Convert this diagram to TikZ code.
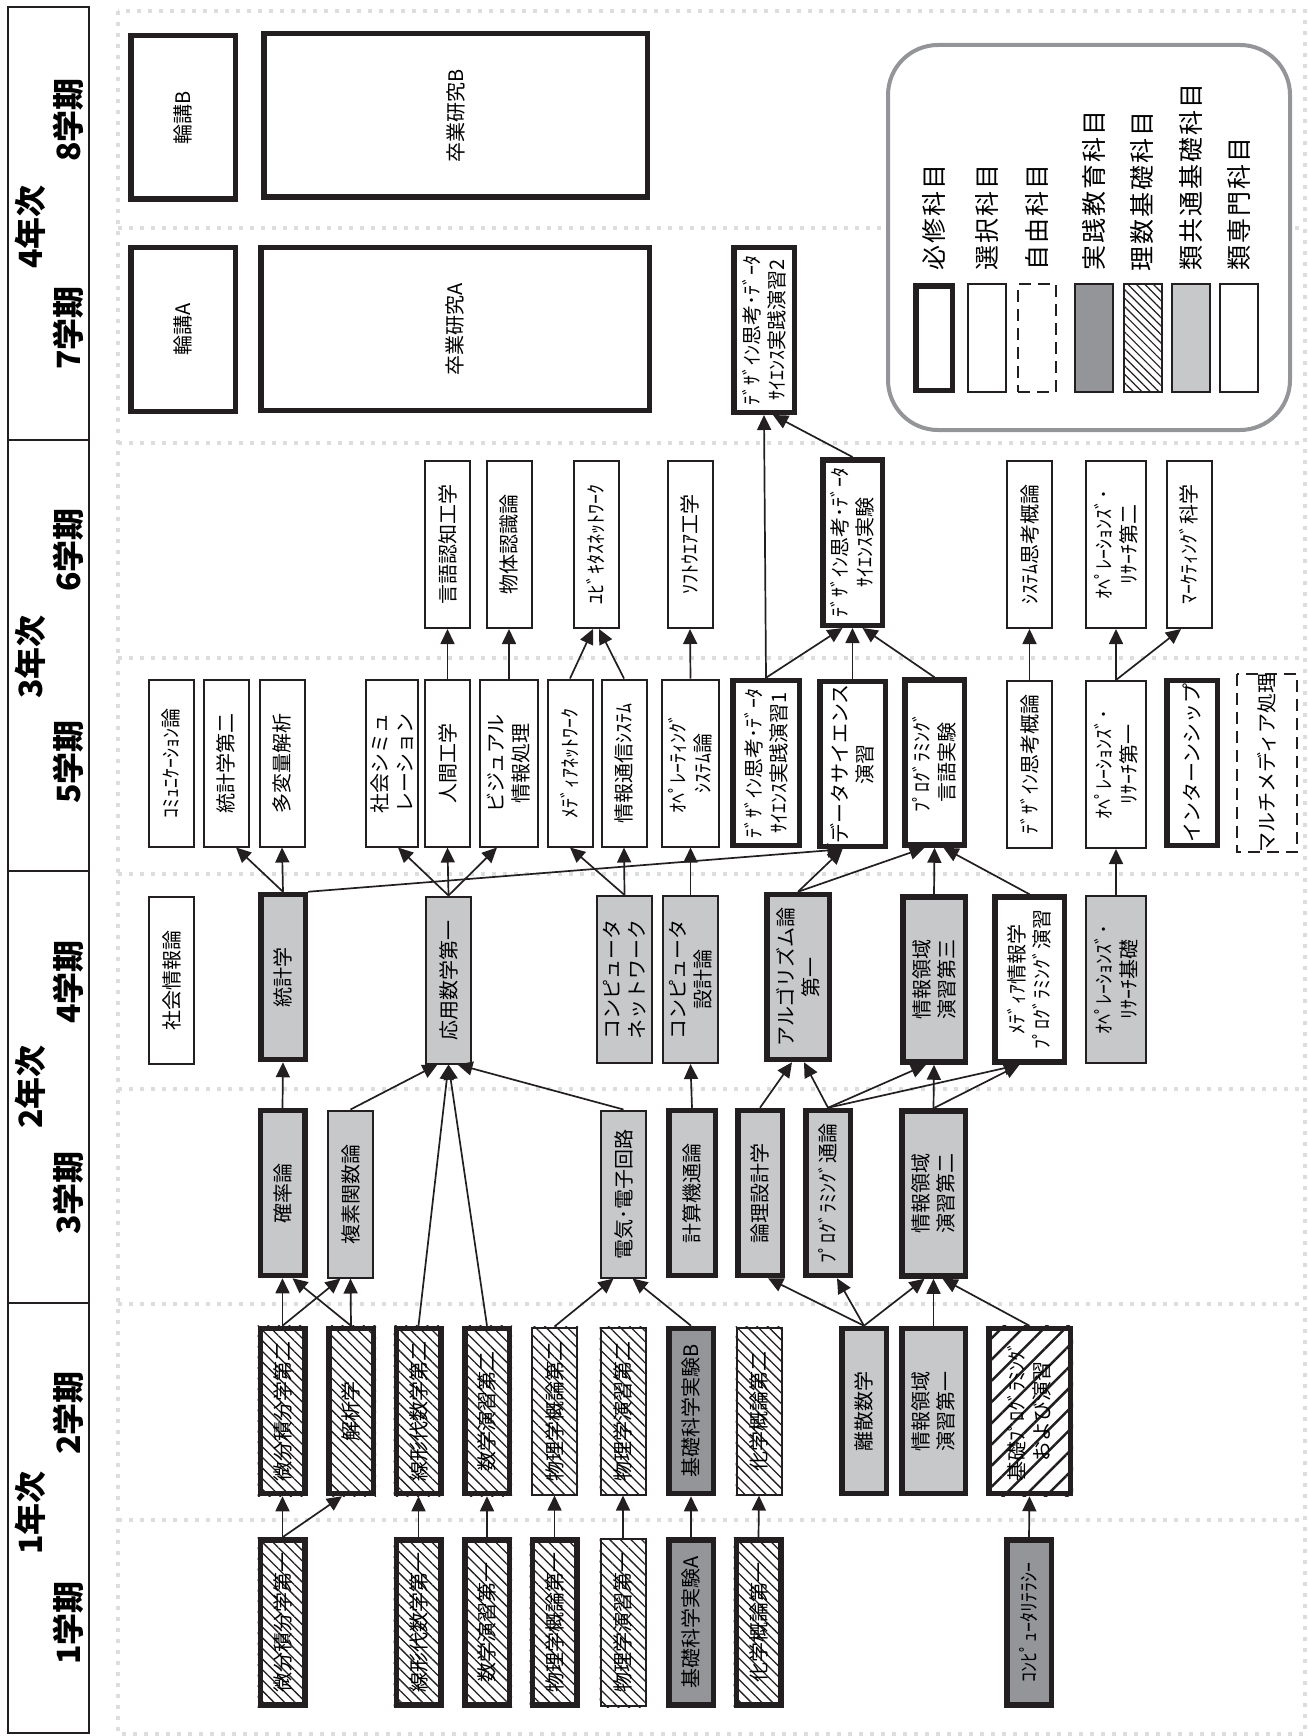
\documentclass[tikz,border=0pt]{standalone}
\usepackage{fontspec}
\setmainfont{Noto Sans CJK JP}
\newfontfamily\legfont{Noto Sans CJK JP}[LetterSpace=8]
\usepackage{tikz}
\usetikzlibrary{arrows.meta,patterns.meta,backgrounds}
\definecolor{ink}{HTML}{231F20}
\definecolor{pracgray}{HTML}{939598}
\definecolor{comgray}{HTML}{C7C8CA}
\definecolor{dotgray}{HTML}{DCDDDE}
\definecolor{framegray}{HTML}{939598}
\newcommand{\crsfont}{\fontsize{20}{25}\selectfont}
\newcommand{\hdrfont}{\fontsize{32}{36}\selectfont\bfseries}
\newcommand{\keyfont}{\legfont\fontsize{25}{30}\selectfont}

\begin{document}
\begin{tikzpicture}[x=1pt,y=1pt,>={Triangle[length=15pt,width=14pt]},
  crs/.style={draw=ink,line width=2pt,rotate=90,align=center,inner sep=0pt,
    minimum width=167pt,minimum height=45pt,font=\crsfont},
  req/.style={crs,line width=5.5pt,minimum width=165pt,minimum height=44.5pt},
  optbox/.style={crs,dash pattern=on 12pt off 7pt},
  pracfill/.style={fill=pracgray},
  comfill/.style={fill=comgray},
  scihatch/.style={pattern={Lines[angle=-45,distance=7.5pt,line width=1.3pt]},pattern color=ink},
  widehatch/.style={pattern={Lines[angle=45,distance=15pt,line width=2.5pt]},pattern color=ink},
  prereq/.style={->,draw=ink,line width=1.7pt},
  termline/.style={draw=dotgray,line width=4pt,dash pattern=on 4pt off 7pt},
  hdr/.style={draw=ink,line width=2pt},
  hlab/.style={rotate=90,font=\hdrfont,inner sep=0pt},
  keybox/.style={draw=ink,line width=2pt,minimum width=38pt,minimum height=108pt,inner sep=0pt},
  keylab/.style={rotate=90,anchor=west,font=\keyfont,inner sep=0pt}]
\useasboundingbox (0,0) rectangle (1308,-1736);
% year / term header
\draw[hdr] (8,-7) rectangle (89,-440);
\draw[hdr] (8,-440) rectangle (89,-871);
\draw[hdr] (8,-871) rectangle (89,-1303);
\draw[hdr] (8,-1303) rectangle (89,-1733);
\node[hlab] (y4) at (30,-227) {4年次};
\node[hlab] (s8) at (68,-120) {8学期};
\node[hlab] (s7) at (68,-328) {7学期};
\node[hlab] (y3) at (30,-657) {3年次};
\node[hlab] (s6) at (68,-550) {6学期};
\node[hlab] (s5) at (68,-762) {5学期};
\node[hlab] (y2) at (30,-1087) {2年次};
\node[hlab] (s4) at (68,-982) {4学期};
\node[hlab] (s3) at (68,-1193) {3学期};
\node[hlab] (y1) at (30,-1513) {1年次};
\node[hlab] (s2) at (68,-1413) {2学期};
\node[hlab] (s1) at (68,-1623) {1学期};
% dotted frame and term separators
\draw[termline] (118,-11) rectangle (1305,-1734);
\draw[termline] (118,-228) -- (1305,-228);
\draw[termline] (118,-443) -- (1305,-443);
\draw[termline] (118,-658) -- (1305,-658);
\draw[termline] (118,-874) -- (1305,-874);
\draw[termline] (118,-1089) -- (1305,-1089);
\draw[termline] (118,-1304) -- (1305,-1304);
\draw[termline] (118,-1520) -- (1305,-1520);
% legend
\draw[draw=framegray,line width=4pt,rounded corners=50pt,fill=white] (888,-45) rectangle (1290,-430);
\node[keybox,line width=5.5pt,minimum width=36.5pt,minimum height=104.5pt] (k1) at (934,-338) {};
\node[keybox] (k2) at (987,-338) {};
\node[keybox,dash pattern=on 12pt off 7pt] (k3) at (1037,-338) {};
\node[keybox,pracfill] (k4) at (1094,-338) {};
\node[keybox,pattern={Lines[angle=-45,distance=6pt,line width=1.2pt]},pattern color=ink] (k5) at (1142.5,-338) {};
\node[keybox,comfill] (k6) at (1191,-338) {};
\node[keybox] (k7) at (1239,-338) {};
\node[keylab] (l1) at ([yshift=12pt]k1.north) {必修科目};
\node[keylab] (l2) at ([yshift=12pt]k2.north) {選択科目};
\node[keylab] (l3) at ([yshift=12pt]k3.north) {自由科目};
\node[keylab] (l4) at ([yshift=12pt]k4.north) {実践教育科目};
\node[keylab] (l5) at ([yshift=12pt]k5.north) {理数基礎科目};
\node[keylab] (l6) at ([yshift=12pt]k6.north) {類共通基礎科目};
\node[keylab] (l7) at ([yshift=12pt]k7.north) {類専門科目};
% 4th year
\node[req,minimum height=104.5pt,minimum width=163.5pt] (rinkoB) at (183,-117.5) {輪講B};
\node[req,minimum height=383.5pt,minimum width=163.5pt] (sotsuB) at (455.5,-115.5) {卒業研究B};
\node[req,minimum height=104.5pt,minimum width=163.5pt] (rinkoA) at (183,-329.5) {輪講A};
\node[req,minimum height=388.5pt,minimum width=162.5pt] (sotsuA) at (455,-329) {卒業研究A};
\node[req,minimum height=60.5pt,minimum width=164.5pt] (dsp2) at (764,-330) {ﾃﾞｻﾞｲﾝ思考･ﾃﾞｰﾀ\\ｻｲｴﾝｽ実践演習2};
% 6th term
\node[crs] (gengo) at (447.5,-544.5) {言語認知工学};
\node[crs] (buttai) at (509,-544.5) {物体認識論};
\node[crs] (ubiq) at (596,-544.5) {ﾕﾋﾞｷﾀｽﾈｯﾄﾜｰｸ};
\node[crs] (soft) at (690,-544.5) {ｿﾌﾄｳｴｱ工学};
\node[req,minimum height=59.5pt,minimum width=165.5pt] (dsexp) at (852.5,-542.5) {ﾃﾞｻﾞｲﾝ思考･ﾃﾞｰﾀ\\ｻｲｴﾝｽ実験};
\node[crs] (sysshiko) at (1029.5,-544.5) {ｼｽﾃﾑ思考概論};
\node[crs,minimum height=60pt] (or2) at (1116,-544.5) {ｵﾍﾟﾚｰｼｮﾝｽﾞ･\\ﾘｻｰﾁ第二};
\node[crs] (mkt) at (1189,-544.5) {ﾏｰｹﾃｨﾝｸﾞ科学};
% 5th term
\node[crs] (comm) at (171,-763) {ｺﾐｭﾆｹｰｼｮﾝ論};
\node[crs] (stat2) at (226,-763) {統計学第二};
\node[crs] (tahen) at (282,-763) {多変量解析};
\node[crs,minimum height=52pt] (socsim) at (392,-763) {社会シミュ\\レーション};
\node[crs] (ningen) at (447.5,-763) {人間工学};
\node[crs,minimum height=58pt] (visual) at (509,-763) {ビジュアル\\情報処理};
\node[crs] (medianet) at (570,-763) {ﾒﾃﾞｨｱﾈｯﾄﾜｰｸ};
\node[crs] (infocom) at (624,-763) {情報通信ｼｽﾃﾑ};
\node[crs,minimum height=57pt] (os) at (690.5,-763) {ｵﾍﾟﾚｰﾃｨﾝｸﾞ\\ｼｽﾃﾑ論};
\node[req,minimum height=66.5pt] (dsp1) at (766,-763) {ﾃﾞｻﾞｲﾝ思考･ﾃﾞｰﾀ\\ｻｲｴﾝｽ実践演習1};
\node[req,minimum height=65.5pt] (dsen) at (852.5,-764) {データサイエンス\\演習};
\node[req,minimum height=59.5pt] (proglang) at (934.5,-762.5) {ﾌﾟﾛｸﾞﾗﾐﾝｸﾞ\\言語実験};
\node[crs] (dshiko) at (1029.5,-764.5) {ﾃﾞｻﾞｲﾝ思考概論};
\node[crs,minimum height=60pt] (or1) at (1116,-764.5) {ｵﾍﾟﾚｰｼｮﾝｽﾞ･\\ﾘｻｰﾁ第一};
\node[req,minimum height=50.5pt] (intern) at (1192,-763) {インターンシップ};
\node[optbox,minimum height=60pt] (mm) at (1267,-763) {マルチメディア処理};
% 4th term
\node[crs] (shakai) at (171.5,-980.5) {社会情報論};
\node[req,comfill] (stat) at (283,-977) {統計学};
\node[crs,comfill] (oyou) at (448.5,-980) {応用数学第一};
\node[crs,comfill,minimum height=55pt] (compnet) at (624.5,-979.5) {コンピュータ\\ネットワーク};
\node[crs,comfill,minimum height=55pt] (compdes) at (690.5,-979.5) {コンピュータ\\設計論};
\node[req,comfill,minimum height=62.5pt] (algo) at (798,-977) {アルゴリズム論\\第一};
\node[req,comfill,minimum height=62.5pt] (info3) at (934,-979.5) {情報領域\\演習第三};
\node[req,minimum height=69.5pt] (mediaprog) at (1029.5,-979.5) {ﾒﾃﾞｨｱ情報学\\ﾌﾟﾛｸﾞﾗﾐﾝｸﾞ演習};
\node[crs,comfill,minimum height=60pt] (orbase) at (1116,-979.5) {ｵﾍﾟﾚｰｼｮﾝｽﾞ･\\ﾘｻｰﾁ基礎};
% 3rd term
\node[req,comfill] (kakuritsu) at (282.5,-1193) {確率論};
\node[crs,comfill] (fukuso) at (350.5,-1194) {複素関数論};
\node[crs,comfill] (denki) at (623.5,-1194) {電気･電子回路};
\node[req,comfill,minimum height=46.5pt] (keisanki) at (692,-1193) {計算機通論};
\node[req,comfill] (ronri) at (760,-1193) {論理設計学};
\node[req,comfill] (progtsu) at (828,-1193) {ﾌﾟﾛｸﾞﾗﾐﾝｸﾞ通論};
\node[req,comfill,minimum height=63.5pt] (info2) at (933.5,-1193.5) {情報領域\\演習第二};
% 2nd term
\node[req] (biseki2) at (282.5,-1411) {微分積分学第二};
\node[req] (kaiseki) at (351,-1411) {解析学};
\node[req] (senkei2) at (418.5,-1411) {線形代数学第二};
\node[req] (suen2) at (487,-1411) {数学演習第二};
\node[crs] (butsugai2) at (554.5,-1411) {物理学概論第二};
\node[crs] (butsuen2) at (623,-1411) {物理学演習第二};
\node[req,pracfill] (kisoB) at (691,-1411) {基礎科学実験B};
\node[crs] (kagaku2) at (759,-1411) {化学概論第二};
\node[req,comfill] (risan) at (864,-1411) {離散数学};
\node[req,comfill,minimum height=63.5pt] (info1) at (933.5,-1411) {情報領域\\演習第一};
\node[req,minimum height=81.5pt] (kisoprog) at (1029.5,-1411) {基礎ﾌﾟﾛｸﾞﾗﾐﾝｸﾞ\\および演習};
% 1st term
\node[req] (biseki1) at (282.5,-1622.5) {微分積分学第一};
\node[req] (senkei1) at (418.5,-1622.5) {線形代数学第一};
\node[req] (suen1) at (487,-1622.5) {数学演習第一};
\node[req] (butsugai1) at (554.5,-1622.5) {物理学概論第一};
\node[crs] (butsuen1) at (623,-1622.5) {物理学演習第一};
\node[req,pracfill] (kisoA) at (691,-1622.5) {基礎科学実験A};
\node[req] (kagaku1) at (758.5,-1622.5) {化学概論第一};
\node[req,pracfill] (literacy) at (1029,-1622.5) {ｺﾝﾋﾟｭｰﾀﾘﾃﾗｼｰ};
% hatching of the science basics, kept upright on the page
\begin{pgfonlayer}{background}
\fill[scihatch] (biseki1.north west) rectangle (biseki1.south east);
\fill[scihatch] (senkei1.north west) rectangle (senkei1.south east);
\fill[scihatch] (suen1.north west) rectangle (suen1.south east);
\fill[scihatch] (butsugai1.north west) rectangle (butsugai1.south east);
\fill[scihatch] (butsuen1.north west) rectangle (butsuen1.south east);
\fill[scihatch] (kagaku1.north west) rectangle (kagaku1.south east);
\fill[scihatch] (biseki2.north west) rectangle (biseki2.south east);
\fill[scihatch] (kaiseki.north west) rectangle (kaiseki.south east);
\fill[scihatch] (senkei2.north west) rectangle (senkei2.south east);
\fill[scihatch] (suen2.north west) rectangle (suen2.south east);
\fill[scihatch] (butsugai2.north west) rectangle (butsugai2.south east);
\fill[scihatch] (butsuen2.north west) rectangle (butsuen2.south east);
\fill[scihatch] (kagaku2.north west) rectangle (kagaku2.south east);
\fill[widehatch] (kisoprog.north west) rectangle (kisoprog.south east);
\end{pgfonlayer}
% 1st -> 2nd term
\draw[prereq] (biseki1.east) -- (biseki2.west);
\draw[prereq] (biseki1.east) -- ([xshift=-9pt]kaiseki.west);
\draw[prereq] (senkei1.east) -- (senkei2.west);
\draw[prereq] (suen1.east) -- (suen2.west);
\draw[prereq] (butsugai1.east) -- (butsugai2.west);
\draw[prereq] (butsuen1.east) -- (butsuen2.west);
\draw[prereq] (kisoA.east) -- (kisoB.west);
\draw[prereq] (kagaku1.east) -- (kagaku2.west);
\draw[prereq] (literacy.east) -- (kisoprog.west);
% 2nd -> 3rd and 4th term
\draw[prereq] (biseki2.east) -- (kakuritsu.west);
\draw[prereq] (biseki2.east) -- ([xshift=-10pt]fukuso.west);
\draw[prereq] (kaiseki.east) -- ([xshift=10pt]kakuritsu.west);
\draw[prereq] (kaiseki.east) -- (fukuso.west);
\draw[prereq] (senkei2.east) -- (oyou.west);
\draw[prereq] (suen2.east) -- (oyou.west);
\draw[prereq] (butsugai2.east) -- ([xshift=-10pt]denki.west);
\draw[prereq] (kisoB.east) -- ([xshift=9pt]denki.west);
\draw[prereq] (risan.east) -- ([xshift=8pt]ronri.west);
\draw[prereq] (risan.east) -- ([xshift=9pt]progtsu.west);
\draw[prereq] (risan.east) -- ([xshift=-9pt]info2.west);
\draw[prereq] (info1.east) -- (info2.west);
\draw[prereq] (kisoprog.east) -- ([xshift=9pt]info2.west);
% 3rd -> 4th term
\draw[prereq] (kakuritsu.east) -- (stat.west);
\draw[prereq] (fukuso.east) -- ([xshift=-11pt]oyou.west);
\draw[prereq] (denki.east) -- ([xshift=9pt]oyou.west);
\draw[prereq] (keisanki.east) -- (compdes.west);
\draw[prereq] (ronri.east) -- ([xshift=-6pt]algo.west);
\draw[prereq] (progtsu.east) -- ([xshift=6pt]algo.west);
\draw[prereq] (progtsu.east) -- ([xshift=-8pt]info3.west);
\draw[prereq] (progtsu.east) -- ([xshift=-10pt]mediaprog.west);
\draw[prereq] (info2.east) -- (info3.west);
\draw[prereq] (info2.east) -- ([xshift=-10pt]mediaprog.west);
% 4th -> 5th term
\draw[prereq] (stat.east) -- ([xshift=10pt]stat2.west);
\draw[prereq] (stat.east) -- (tahen.west);
\draw[prereq] (stat.south east) -- ([xshift=-10pt]dsen.west);
\draw[prereq] (oyou.east) -- ([xshift=6pt]socsim.west);
\draw[prereq] (oyou.east) -- (ningen.west);
\draw[prereq] (oyou.east) -- ([xshift=-12pt]visual.west);
\draw[prereq] (compnet.east) -- (medianet.west);
\draw[prereq] (compnet.east) -- (infocom.west);
\draw[prereq] (compdes.east) -- (os.west);
\draw[prereq] (algo.east) -- ([xshift=-10pt]dsen.west);
\draw[prereq] (algo.east) -- ([xshift=-10pt]proglang.west);
\draw[prereq] (info3.east) -- (proglang.west);
\draw[prereq] (mediaprog.east) -- ([xshift=9pt]proglang.west);
\draw[prereq] (orbase.east) -- (or1.west);
% 5th -> 6th and 7th term
\draw[prereq] (ningen.east) -- (gengo.west);
\draw[prereq] (visual.east) -- (buttai.west);
\draw[prereq] (medianet.east) -- ([xshift=-3pt]ubiq.west);
\draw[prereq] (infocom.east) -- ([xshift=3pt]ubiq.west);
\draw[prereq] (os.east) -- (soft.west);
\draw[prereq] (dsp1.east) -- ([xshift=-10pt]dsexp.west);
\draw[prereq] (dsen.east) -- (dsexp.west);
\draw[prereq] (proglang.east) -- ([xshift=10pt]dsexp.west);
\draw[prereq] (dshiko.east) -- (sysshiko.west);
\draw[prereq] (or1.east) -- (or2.west);
\draw[prereq] (or1.east) -- ([xshift=-8pt]mkt.west);
\draw[prereq] (dsp1.east) -- (dsp2.west);
\draw[prereq] (dsexp.east) -- ([xshift=9pt]dsp2.west);
\end{tikzpicture}
\end{document}
